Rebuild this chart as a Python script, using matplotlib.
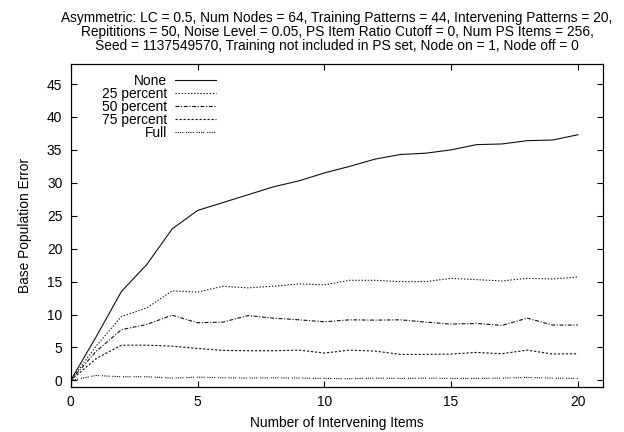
import matplotlib
matplotlib.use("Agg")
import matplotlib.pyplot as plt

plt.rcParams['font.family'] = ['Liberation Sans', 'DejaVu Sans']

# Number of intervening items
items = list(range(0, 21))

# Base population error for each pruning level
none_err = [0.0, 6.6, 13.5, 17.6, 23.0, 25.8, 27.0, 28.2, 29.4, 30.3, 31.5,
            32.5, 33.6, 34.3, 34.5, 35.0, 35.8, 35.9, 36.4, 36.5, 37.3]
p25_err = [0.0, 5.2, 9.7, 11.0, 13.6, 13.4, 14.3, 14.05, 14.3, 14.65, 14.5,
           15.2, 15.2, 15.0, 15.0, 15.5, 15.3, 15.1, 15.5, 15.4, 15.7]
p50_err = [0.0, 4.4, 7.7, 8.5, 9.9, 8.75, 8.85, 9.85, 9.45, 9.2, 8.9,
           9.2, 9.15, 9.2, 8.85, 8.55, 8.65, 8.35, 9.45, 8.4, 8.4]
p75_err = [0.0, 3.3, 5.35, 5.35, 5.2, 4.85, 4.55, 4.5, 4.5, 4.6, 4.15,
           4.6, 4.45, 3.95, 3.95, 4.0, 4.25, 4.05, 4.6, 4.0, 4.05]
full_err = [0.0, 0.75, 0.55, 0.55, 0.35, 0.5, 0.4, 0.35, 0.4, 0.35, 0.3,
            0.25, 0.35, 0.3, 0.35, 0.3, 0.3, 0.35, 0.45, 0.35, 0.3]

labels = ["None", "25 percent", "50 percent", "75 percent", "Full"]
series = [none_err, p25_err, p50_err, p75_err, full_err]
styles = [
    '-',
    (0, (1.2, 1.6)),
    (0, (3.5, 1.5, 1.0, 1.5)),
    (0, (2.0, 1.6)),
    (0, (1.0, 1.0, 1.0, 1.0, 1.0, 1.0, 1.0, 2.5)),
]

title = ("Asymmetric: LC = 0.5, Num Nodes = 64, Training Patterns = 44, Intervening Patterns = 20,\n"
         "Repititions = 50, Noise Level = 0.05, PS Item Ratio Cutoff = 0, Num PS Items = 256,\n"
         "Seed = 1137549570, Training not included in PS set, Node on = 1, Node off = 0")

FS = 9.9

fig = plt.figure(figsize=(6.24, 4.32), dpi=100)
ax = fig.add_axes([0.1133, 0.1042, 0.8535, 0.747])

for y, lab, ls in zip(series, labels, styles):
    ax.plot(items, y, color='#111111', lw=0.8, linestyle=ls, label=lab)

ax.set_xlim(0, 21)
ax.set_ylim(-1, 48)
ax.set_xticks([0, 5, 10, 15, 20])
ax.set_yticks(list(range(0, 46, 5)))
ax.tick_params(direction='in', length=4, width=0.8, top=True, right=True,
               labelsize=FS, pad=6)
for sp in ax.spines.values():
    sp.set_linewidth(0.9)

ax.set_xlabel("Number of Intervening Items", fontsize=FS, labelpad=5)
ax.set_ylabel("Base Population Error", fontsize=FS, labelpad=11)
ax.set_title(title, fontsize=FS, linespacing=1.0, pad=10)

leg = ax.legend(loc='upper left', bbox_to_anchor=(0.04, 1.0), frameon=False,
                markerfirst=False, fontsize=FS, handlelength=3.0,
                handletextpad=0.6, labelspacing=-0.07, borderaxespad=0.3)

fig.savefig("out.png", dpi=100)
